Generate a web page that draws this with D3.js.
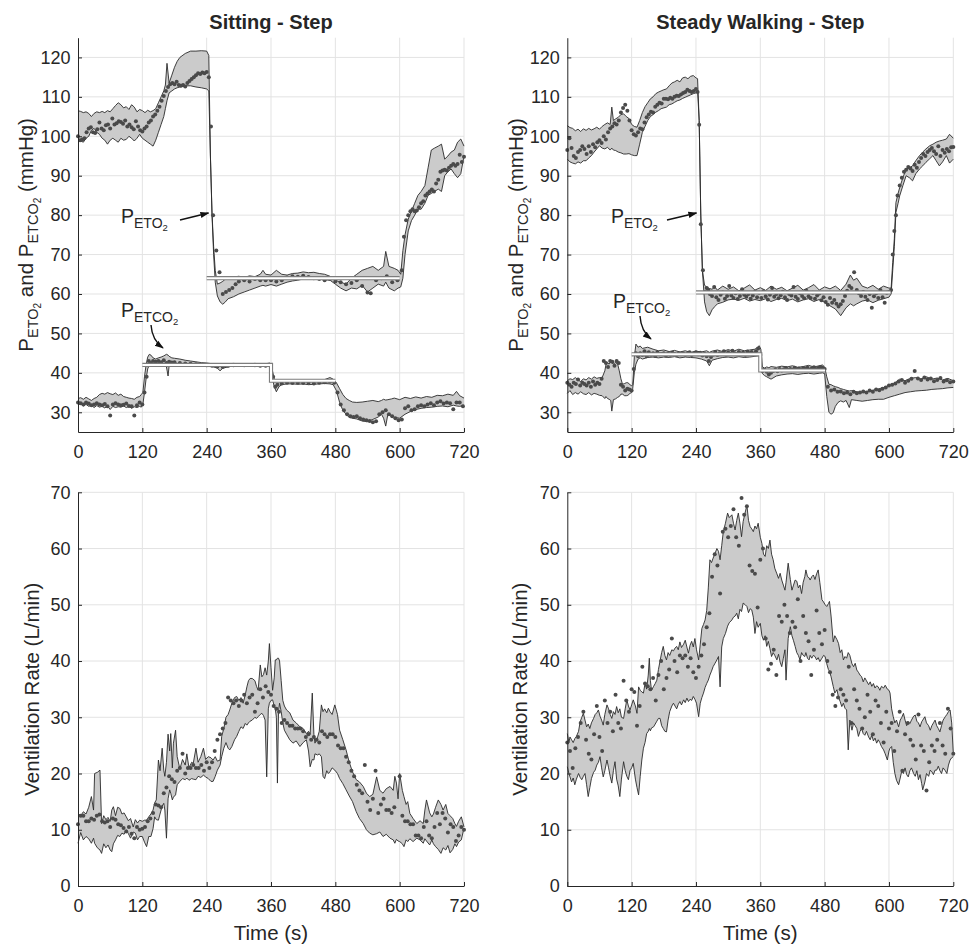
<!DOCTYPE html>
<html>
<head>
<meta charset="utf-8">
<script src="https://cdn.jsdelivr.net/npm/d3@7"></script>
<style>
  body { margin: 0; background: #fff; }
  text { font-family: "Liberation Sans", Arial, Helvetica, sans-serif; fill: #262626; }
</style>
</head>
<body>
<svg id="fig" width="970" height="946"></svg>
<script>
// ---- data: [time, upper, lower] for bands, [time, value] for breath dots ----
var timeTicks = [0, 120, 240, 360, 480, 600, 720];
var gasTicks = [30, 40, 50, 60, 70, 80, 90, 100, 110, 120];
var ventTicks = [0, 10, 20, 30, 40, 50, 60, 70];
var titles = ["Sitting - Step", "Steady Walking - Step"];

// sitting, end-tidal O2
var sitO2Band = [[0,106.5,98.5],[5,106.3,98.8],[10,106,98.5],[15,106.2,99.5],[20,105.8,100],[25,105,101.5],[30,105.8,102],[35,106.2,101],[40,106,100.5],[45,106.3,99.5],[50,106,99],[55,106.5,98],[60,106.2,99],[65,107,99.5],[70,107.8,99],[75,108.5,98.5],[80,108,99.5],[85,107.2,99],[90,107.5,99.2],[95,106.8,100],[100,108,99.5],[105,107.4,98.8],[110,106.2,99.5],[115,106.8,100.5],[120,106.5,99.5],[125,106,99],[130,106.6,98.5],[135,106.2,98],[140,106.5,97.5],[145,107,99],[150,108.5,101],[155,110,103],[160,111.5,105],[163,113,107],[166,118.5,109],[170,113.5,111],[175,115.5,111.5],[180,117.5,112],[185,119,112.3],[190,120,112.5],[200,121,112.8],[210,121.6,112.8],[220,121.6,112.5],[230,121.7,112.3],[240,121.6,112],[244,120.5,111.5],[247,95,95],[250,80.5,80],[253,72,70],[256,66,63],[260,62.5,59.5],[265,62.8,58],[270,63.2,57.4],[275,63.8,58],[280,64,58.8],[290,64.3,59.3],[300,64.5,60],[310,64.2,60.5],[320,64.6,61],[330,64.4,61.5],[340,65,62],[345,66,62.2],[350,65,62],[360,64.8,62.4],[370,66,62],[380,65,62.5],[390,64.8,63],[400,65.2,63.3],[410,65.3,63.5],[420,65.6,63.8],[430,65.4,64],[440,65.5,64],[450,65.2,63.8],[460,65,63.6],[470,64.5,63.5],[480,63.5,62.5],[490,63,61.5],[500,62.5,60.8],[510,64,61.5],[520,65,61.3],[530,66,62.2],[540,66.5,60.5],[550,67,61.5],[560,66,62.5],[570,67,62],[574,70.8,63],[580,67,61.5],[590,66.5,60.8],[597,66,61.5],[602,65,61.8],[606,71,64],[610,75,70],[616,79,76],[622,81,78.6],[628,83,80],[634,85,81.5],[640,86,81.5],[647,87.5,83],[653,92,85],[659,96.5,85.5],[665,97,86],[672,97.5,86.6],[678,98,86],[684,94.2,90],[690,95,91],[696,96,91.7],[702,96.5,90.5],[708,98.5,89.5],[714,99.3,90.5],[720,97.5,95]];
var sitO2Dots = [[0,100],[4,99],[8,99.2],[12,99.5],[16,101],[20,102],[24,102.3],[28,101],[32,100.8],[36,101.8],[40,103.5],[44,102],[48,101.5],[52,102.8],[56,103],[60,102],[64,104.5],[68,103],[72,103.3],[76,103.8],[80,103.6],[84,103.2],[88,104],[92,102.5],[96,103],[100,102.3],[104,101.8],[108,103.8],[112,102.5],[116,101.5],[120,101.2],[124,102],[128,102.5],[132,103.5],[136,104],[140,105],[144,105.5],[148,106.5],[152,107.5],[156,109],[160,110.2],[164,111.5],[168,112.5],[172,113.2],[176,113.5],[180,113.2],[184,113.8],[188,113],[192,112.8],[196,113],[200,112.6],[204,113.5],[208,114],[212,114.5],[216,115],[220,115.5],[224,116],[228,115.8],[232,116.2],[236,116],[240,116.3],[244,115],[248,102.5],[252,80],[258,71],[264,65.5],[270,60],[276,60.5],[282,61],[288,61.5],[294,62.5],[300,63.2],[310,63.5],[320,63.2],[330,63.8],[340,63.5],[350,63.5],[360,63.5],[370,63.2],[380,63.5],[390,64.2],[400,64.5],[410,64.4],[420,64.6],[430,64.3],[440,64],[450,63.8],[460,63.5],[470,63.8],[480,63.2],[490,63],[500,62.5],[510,62.8],[520,63.5],[530,62],[540,60.4],[546,60.2],[556,63.5],[566,64],[576,64.5],[586,63],[596,63.5],[604,66],[608,74.5],[612,78.7],[616,80],[620,81],[624,81.5],[628,81],[632,81.2],[636,82],[640,83],[644,83.5],[648,85],[652,85.5],[656,86],[660,86.5],[664,86],[668,88],[672,89],[676,91],[680,91.3],[684,91.5],[688,91.3],[692,92],[696,92.5],[700,93],[704,92.5],[708,93],[712,95.3],[716,93.5],[720,94.8]];
var sitO2Target = [[240,64],[600,64]];

// sitting, end-tidal CO2
var sitCo2Band = [[0,33.5,31.8],[5,33.7,32.2],[10,33.3,31.6],[15,33.8,32],[20,33.4,31.5],[25,33,31.8],[30,33.5,31.2],[35,33.8,31.7],[40,34.5,31.3],[45,34.8,31.5],[50,34.6,31.1],[55,35,31.6],[60,34.7,30.7],[65,34.5,31.5],[70,34.9,31.2],[75,34.3,31.4],[80,34.6,31.3],[85,34,31.6],[90,33.8,31.2],[95,33.6,31.5],[100,33.5,31],[105,33.3,31.4],[110,33.8,31.2],[115,34,31.5],[118,34.5,31.3],[121,35,32],[124,39,35],[127,42,38.5],[130,44,41],[133,44.7,42],[136,44.5,41.8],[140,43.8,42],[145,43.5,42.2],[150,43.8,42.5],[155,44,42.3],[160,44.3,42],[165,44.7,41.5],[168,44.5,39.2],[170,44.2,41.8],[175,43.8,42],[180,43.7,42.1],[190,43.5,42],[200,43.2,41.8],[210,43,42],[220,42.8,41.7],[230,42.6,41.8],[240,42.5,41.6],[250,42.3,41.6],[260,42.2,41.2],[265,42.2,40.5],[270,42.2,41.2],[280,42.3,41.5],[290,42.4,41.8],[300,42.3,41.7],[310,42.3,41.9],[320,42.3,41.8],[330,42.4,41.8],[340,42.3,41.9],[350,42.3,41.7],[358,42.5,41.8],[362,41,39],[366,38.5,36.5],[370,38,35.2],[375,38,36.5],[380,38,37],[390,38.2,37.2],[400,38.1,37.2],[410,38,37.1],[420,38.1,37.2],[430,38.2,37],[440,38,37.1],[450,38.1,37.2],[460,38.3,37.3],[470,38.8,37.2],[476,38.4,37],[482,37.5,35.5],[488,36,32.5],[494,34.5,30.5],[500,33.5,29.5],[506,33,28.7],[512,32.6,28.5],[520,32.5,28.3],[530,32.6,27.8],[540,32.8,27.6],[550,33,28.2],[560,32.7,28.8],[566,33,29.5],[570,33.3,28.5],[574,33.1,26.5],[578,33.2,29.5],[585,33.4,29.2],[590,33.6,28.7],[600,33.2,28.5],[610,33.8,29.5],[620,33.5,30.2],[630,33.9,30.7],[640,33.6,31],[650,34,31.2],[660,33.8,31.3],[670,34.3,31.5],[680,34.2,31.6],[690,34.6,31.4],[700,34.3,31.8],[706,35.3,31.6],[712,34.2,31.5],[720,33.6,31.8]];
var sitCo2Dots = [[0,32.5],[5,32.3],[10,32],[15,32.5],[20,32.2],[25,31.8],[30,32],[35,32.3],[40,32],[45,31.8],[50,32.1],[55,31.5],[60,29.2],[65,32],[70,32.3],[75,32],[80,31.8],[85,31.9],[90,32.2],[95,31.6],[100,31.5],[105,29.2],[110,31.8],[115,32.5],[120,32],[124,35],[128,39],[132,43],[136,42.5],[140,43],[145,42.8],[150,43],[155,42.7],[160,43.2],[165,42.5],[170,42.8],[175,42.6],[180,42.7],[190,42.5],[200,42.4],[210,42.3],[220,42.2],[230,42],[240,41.9],[250,41.8],[260,41.6],[270,41.5],[280,41.8],[290,41.9],[300,42],[310,41.9],[320,42],[330,41.9],[340,41.8],[350,41.8],[358,42],[364,39],[368,36.5],[372,37],[380,37.3],[390,37.5],[400,37.4],[410,37.5],[420,37.4],[430,37.5],[440,37.3],[450,37.5],[460,37.6],[470,37.8],[478,37.5],[484,35],[490,32],[496,30.5],[502,29.5],[508,29],[514,28.8],[520,29],[526,28.5],[532,28.2],[538,28],[544,27.8],[550,27.5],[556,27.7],[562,29.5],[568,30],[574,30.5],[580,29.5],[586,29],[592,28.5],[598,28],[604,28.2],[610,31],[616,31.5],[622,30.5],[628,30.8],[634,31.5],[640,31.8],[646,31.5],[652,32],[658,32.3],[664,31.8],[670,32.5],[676,32.8],[682,32.2],[688,32.5],[694,32.3],[700,30.8],[706,32.5],[712,32.5],[718,31.5]];
var sitCo2Target = [[120,42],[360,42],[360,38],[480,38]];

// walking, end-tidal O2
var wlkO2Band = [[0,102.7,94.2],[5,102.2,93.5],[10,102,93.2],[15,101.4,93],[20,101.8,93.5],[25,101.2,93.2],[30,101.9,93.8],[35,101.5,93.8],[40,102,94.5],[45,101.6,95.1],[50,101.9,96],[55,102.3,96.8],[60,101.8,97.6],[65,102.5,97],[70,103,96.8],[75,103.4,97.2],[80,103,96.5],[83,107.4,97],[86,104,96.5],[90,104.4,96.4],[95,104.8,96],[100,105.5,95.8],[105,105.7,95.5],[110,105,95.5],[115,104.5,95.6],[120,103,95.3],[125,102.5,95.1],[130,102.3,95.1],[135,104,98],[140,106,101],[145,107.5,102.5],[150,108.5,104],[155,109.5,105],[160,110,105.5],[165,110.8,106.1],[170,111.2,106.5],[175,111.5,107],[180,111.8,107.2],[185,112,107.4],[190,112.8,108],[195,113.5,108.2],[200,113.8,108.6],[205,114.2,109],[210,113.8,109.2],[215,114.8,109.6],[220,115,109.9],[225,114.6,110.2],[230,115.2,110.5],[235,115.4,110.8],[240,114.8,111],[243,114.6,111.6],[246,104,104],[249,80,80],[252,66,66],[256,62.2,58],[260,61.8,55.5],[265,61.4,54.5],[270,61.2,56],[275,61.8,56.8],[280,61,57.5],[290,62,57.9],[300,61.2,58.5],[310,61.8,58.7],[320,60.8,58.4],[330,61.5,58.9],[340,62.3,58.2],[350,61,58.6],[360,61.6,58.3],[370,60.9,58.8],[380,62,58.1],[390,61.2,58.6],[400,61.7,58.9],[410,60.8,58.3],[420,61.5,58.7],[430,62.2,58],[440,61,58.5],[450,61.6,58.8],[460,62.4,58.1],[470,61,58.6],[480,61.8,57.9],[490,61.3,57],[500,62,56.2],[510,60.9,54.5],[520,62.5,56.5],[528,64.8,57.5],[534,63.5,57],[540,64,57.5],[550,62,58.2],[560,61.5,58.5],[570,62.2,57.8],[580,61.2,58.4],[590,62,58.8],[600,61.5,59.2],[604,61.5,60],[607,68,66],[610,74,72],[613,83.2,80.7],[617,85.5,83],[620,87,84.9],[626,89.5,87.5],[632,91.7,90],[638,92,89.5],[644,92.5,88.7],[650,93.8,90.5],[657,95.1,91.7],[663,96,92.5],[669,96.8,93.4],[676,97.6,94.3],[682,98,95.1],[688,98.5,93.8],[694,98.8,92.5],[700,99,93.5],[707,99.3,95.1],[713,100.5,93.2],[720,99.5,94.2]];
var wlkO2Dots = [[0,96.5],[4,99.5],[8,97],[12,95],[16,94.5],[20,96],[24,96.5],[28,97.5],[32,96.8],[36,95.5],[40,97.5],[44,96],[48,98],[52,97.2],[56,98.5],[60,99],[64,98.3],[68,100],[72,99.2],[76,101],[80,102],[84,102.5],[88,103.3],[92,103],[96,104],[100,106],[104,107.2],[108,108],[112,106.5],[116,104],[120,101.5],[124,100.5],[128,100.2],[132,101],[136,102],[140,101.8],[144,103.5],[148,104.8],[152,105.5],[156,106.2],[160,106],[164,107.5],[168,108],[172,108.5],[176,108.3],[180,109.5],[184,109.5],[188,109.4],[192,109.8],[196,109.5],[200,110],[204,110.3],[208,110.2],[212,110.6],[216,111],[220,111.2],[224,111.8],[228,111.5],[232,111.2],[236,111.5],[240,112],[243,111.2],[246,102.9],[249,77.7],[253,66],[257,60.5],[260,61.5],[263,61],[266,60],[270,59.5],[274,61.8],[278,59.2],[282,58.5],[286,59.8],[290,60.4],[294,58.8],[298,59.5],[302,62],[306,59.6],[310,59],[314,60.2],[318,58.7],[322,59.5],[326,61.2],[330,59.8],[334,59.3],[338,60],[342,58.8],[346,59.6],[350,60.5],[354,59.2],[358,60.3],[362,59],[366,60.7],[370,59.4],[374,58.6],[378,59.8],[382,61.5],[386,59.3],[390,60],[394,58.9],[398,59.7],[402,60.6],[406,59.2],[410,58.5],[414,60],[418,59.6],[422,61.8],[426,59.3],[430,58.7],[434,60.2],[438,59.5],[442,58.9],[446,60.8],[450,59.4],[454,59],[458,60.3],[462,58.8],[466,59.6],[470,60.1],[474,58.4],[478,59.2],[482,58],[486,57.3],[490,59],[494,57.8],[498,58.5],[502,57.5],[506,56.8],[510,57.4],[514,58.2],[518,59.5],[522,60.8],[526,62],[530,61.5],[535,65.5],[540,61],[544,60.2],[548,59.5],[552,60.5],[556,59.3],[560,58.5],[564,60],[568,56.5],[572,59.4],[576,60.2],[580,59],[584,61],[588,59.2],[592,57.8],[596,60.3],[600,60.5],[604,61],[607,70],[610,76],[613,80],[616,85],[620,87.5],[624,89.5],[628,91],[632,91.5],[636,92.2],[640,91.8],[644,91.2],[648,92.8],[652,92],[656,93.5],[660,94.5],[664,95.5],[668,95],[672,96],[676,96.5],[680,97],[684,96.2],[688,95.5],[692,97.5],[696,95],[700,96.5],[704,95.8],[708,96.8],[712,96.2],[716,97.2],[720,97.3]];
var wlkO2Target = [[240,60.4],[603,60.4]];

// walking, end-tidal CO2
var wlkCo2Band = [[0,38,34.8],[5,38.5,35.5],[10,38.3,34.5],[15,38.8,35],[20,38.2,34.6],[25,37.8,35.2],[30,38.5,34.7],[35,38.2,34.5],[40,38.8,35],[45,38.4,34.4],[50,39,34.8],[55,38.6,34.6],[60,38.8,34.3],[65,38.8,34.2],[70,40.5,33.5],[72,42,34],[75,42.6,33.5],[78,42.2,33.3],[81,42.8,33],[83,42.5,30.3],[86,42.3,33.2],[90,42.6,33.4],[94,42.2,33.8],[97,40.5,34],[100,38.5,34.6],[103,37.1,34.6],[107,37.3,34.2],[110,37.5,34.2],[113,37.5,34.3],[117,37,34.8],[120,36.7,35],[122,37,36],[125,44,40],[128,47.3,42.2],[132,46.5,43.5],[136,46.8,43.8],[140,46.2,43.5],[150,46.5,43.9],[160,46,44],[170,45.6,43.8],[180,45.8,44],[190,45.4,43.9],[200,45.7,44.1],[210,45.3,43.8],[220,45.6,44],[230,45.2,43.9],[240,45.5,43.8],[250,45.3,43.5],[260,45.6,43],[265,45.2,41.8],[270,45.5,43.2],[280,45.8,43.6],[290,45.4,43.9],[300,45.9,44],[310,45.5,43.8],[320,46,44.1],[330,45.6,43.9],[340,45.8,44],[350,46,44.2],[355,46.5,44.3],[358,46.9,44.5],[361,46,43.5],[364,41.5,39.8],[368,41.2,39.3],[372,41.5,39],[376,41.3,38.7],[380,41.6,38.4],[390,41.4,39.2],[400,41.7,39.5],[410,41.5,39.7],[420,41.8,39.8],[430,41.4,39.6],[440,41.6,39.8],[450,41.9,39.9],[460,41.5,39.7],[470,41.8,39.9],[476,42,40],[480,41.5,39.8],[484,39,34],[488,37.1,30],[492,37,29.5],[496,36.7,29.9],[500,36.5,31.5],[505,36.3,32.5],[510,36,32.9],[515,35.8,32.6],[520,35.6,33],[526,35.4,31.2],[530,35.5,33.2],[540,35.2,33],[550,35,32.8],[560,35.3,33],[570,35.6,33.2],[580,35.9,33.3],[590,36.3,33.3],[600,36.8,33.8],[610,37.3,34.2],[620,38.4,34.6],[630,38,35],[640,38.6,35.2],[650,38.8,35.4],[660,38.4,35.5],[670,39,35.6],[680,38.4,35.8],[690,38.7,35.9],[700,38.2,36],[710,38.6,36.2],[720,38,36.3]];
var wlkCo2Dots = [[0,37.5],[4,37],[8,36.5],[12,37.5],[16,37.2],[20,38.3],[24,36.8],[28,37.5],[32,37.2],[36,36.8],[40,37.5],[44,36.5],[48,37.8],[52,37],[56,37.5],[60,37.2],[64,38.5],[68,43],[72,42.5],[76,41.5],[80,43],[84,42.8],[88,41.8],[92,43],[96,42.5],[100,37],[104,36.5],[108,35.5],[112,36],[116,35.8],[120,35.5],[124,41],[128,45],[132,44.2],[136,45],[140,44.5],[144,45.5],[148,44.2],[152,45.2],[156,44.6],[160,45],[164,44.3],[168,45.2],[172,44.7],[176,44.8],[180,45],[184,44.4],[188,44.9],[192,44.6],[196,45.1],[200,44.8],[204,44.5],[208,45],[212,44.7],[216,44.9],[220,44.6],[224,44.8],[228,45.2],[232,44.5],[236,44.9],[240,45.2],[244,44.7],[248,45.1],[252,44.4],[256,44.8],[260,44.2],[264,43],[268,44],[272,44.6],[276,45.3],[280,44.5],[284,45],[288,44.8],[292,45.5],[296,44.6],[300,45.2],[304,44.8],[308,45.6],[312,45],[316,44.7],[320,45.3],[324,44.9],[328,45.1],[332,44.6],[336,45.4],[340,45],[344,45.3],[348,44.8],[352,45.5],[356,46.2],[360,44.5],[364,40.5],[368,40.8],[372,40.3],[376,39.6],[380,40],[384,40.5],[388,40.8],[392,40.4],[396,41],[400,40.6],[404,40.9],[408,41.2],[412,40.7],[416,41],[420,40.8],[424,41.3],[428,40.9],[432,41.1],[436,40.7],[440,41.2],[444,41],[448,41.3],[452,40.8],[456,41.1],[460,41.4],[464,40.9],[468,41.2],[472,41.5],[476,41.3],[480,41],[486,36.5],[492,35.5],[498,35.8],[504,35.2],[510,35.3],[516,34.8],[522,35],[528,34.6],[534,35.2],[540,34.8],[546,35],[552,35.3],[558,35],[564,35.5],[570,35.2],[576,35.8],[582,35.6],[588,36],[594,36.3],[600,36.8],[606,37],[612,37.3],[618,37.8],[624,38.2],[630,37.5],[636,38],[642,38.5],[648,40.5],[654,38.6],[660,38.2],[666,38.8],[672,38.3],[678,38.6],[684,37.9],[690,38.2],[696,38.7],[702,37.8],[708,38.1],[714,37.6],[720,37.8]];
var wlkCo2Target = [[120,44.7],[360,44.7],[360,40.6],[481,40.6]];

// sitting, ventilation
var sitVentBand = [[0,12.9,7.6],[5,12.5,9.5],[10,13.2,8.2],[15,12.8,8.8],[20,14,8.4],[25,15.9,7.6],[29,13.5,8.5],[31,20,7.6],[36,20.2,6.8],[41,20.6,6.4],[44,11.1,5.8],[48,12.5,7.5],[52,11.8,6.8],[56,12.2,7.3],[60,11.5,6.4],[63,13.5,6.1],[66,14.1,7.5],[70,12.5,8.2],[74,14,9],[78,13.8,8.8],[82,12.8,9.4],[86,13,9.2],[90,12.3,10],[94,11.6,9.3],[98,12,8.5],[103,10.5,9.6],[107,11.8,9.4],[111,11.2,8.2],[115,11.7,8.8],[120,11.5,8.8],[124,11.7,7.8],[128,11.7,7],[132,12.3,8.8],[136,12.8,8.8],[140,13.5,10.2],[143,14.8,12.3],[146,15.3,11.8],[150,22.4,11.7],[153,20.5,12.8],[157,24.5,14.2],[160,20.6,14.7],[162,19.5,13.5],[165,22,8.5],[168,27,15.5],[171,24,17.1],[173,27.1,16.5],[176,21,15.3],[178,25.4,15.8],[182,27.7,16.2],[185,23,18],[190,20.8,18.6],[195,22.5,19.1],[200,21.5,18.9],[203,23.5,19.2],[207,21,18.8],[212,22,19.1],[215,21.8,19],[220,24.5,18.9],[224,22,19.5],[229,23,19.3],[234,24.5,19.7],[238,22.5,19.4],[243,23,19.1],[248,22.8,18.6],[252,22.4,18.6],[256,23,19.5],[260,22.2,20.6],[265,22.4,21.5],[268,26.6,23],[272,28,24.5],[276,30,25.5],[280,30.5,24.5],[283,31.3,24.2],[287,32.5,24.8],[292,33.5,26],[296,33.7,26.6],[300,33,27.5],[304,33.5,28.3],[308,32.5,28],[312,34,28.9],[315,35.4,28.6],[318,36.5,29],[321,36.9,29.3],[325,36.9,29.5],[330,36.5,30],[333,35.5,29.8],[336,34.8,30.1],[340,39.3,30.5],[343,37.2,30.7],[346,37.6,30.3],[349,38.8,29.5],[352,37.5,19.4],[355,40,31.5],[357,43.1,32.5],[360,38.8,33],[363,34.8,33.1],[366,37,32],[368,40.2,31.5],[370,40.2,30],[372,40.5,18.3],[374,40.5,31],[376,40,32.5],[379,36.5,31],[382,33,29],[385,32,27.7],[389,31.3,27],[395,30.8,26],[401,29.5,25.4],[407,29,25.8],[414,28.3,24.8],[420,28,25.5],[426,27.1,26],[430,27.5,24],[433,27,21.2],[437,34.3,22.5],[440,27,22.4],[442,25.4,23.5],[447,26.5,23.3],[450,27.5,23.5],[454,32.2,23],[457,31,19.5],[460,31.5,19.1],[464,30.8,20.5],[467,31.6,20],[470,31,20.3],[474,30.5,21],[479,32.2,20.6],[484,30.5,20],[488,27.7,19.1],[494,26,18.2],[500,24.2,17.1],[506,22,16],[512,20.3,15],[519,18.9,13.2],[525,18.5,12],[532,17.7,11.1],[538,16.5,10],[544,15.9,9.4],[550,16.3,9.1],[557,19.4,9.3],[563,17,9.6],[569,16.5,8.8],[575,17.3,9.2],[582,17.7,8.5],[588,17,8.2],[591,19.5,7.6],[594,18.3,8.3],[597,15.5,8],[600,20,7.9],[605,17,7.5],[608,15.9,7],[612,14.5,8.2],[615,15,7.9],[619,12.9,8.4],[625,12,7.9],[632,11.1,8.5],[638,11.6,8.2],[644,11.1,7.6],[647,13.5,8.4],[650,15.3,8],[656,13,7.3],[660,12.3,8.2],[663,12.8,7.5],[667,14,7],[672,15.3,6.5],[677,14.5,5.8],[681,13.5,6.8],[686,14.5,6.4],[690,12.9,7.2],[694,12.5,5.9],[699,12,6.5],[703,11.1,7.5],[706,10.6,7],[710,11.5,7.8],[715,12.3,8.2],[720,10.5,10.3]];
var sitVentDots = [[0,11],[5,12.5],[10,12.5],[15,11.5],[20,11.5],[25,12],[30,11.8],[35,12.5],[40,12.7],[45,11.5],[50,11.3],[55,11.5],[60,10.5],[65,12],[70,11.8],[75,11],[80,10.8],[85,10.3],[90,9.7],[95,10.5],[100,9.3],[105,8.5],[110,10.5],[115,10],[120,10.2],[125,10.5],[130,11.5],[135,12],[140,13],[145,14.5],[150,14.3],[155,14],[160,16.5],[165,17.5],[170,19.5],[175,19],[180,18.5],[185,20.5],[190,21],[195,23.5],[200,20],[205,21],[210,21],[215,21.5],[220,21],[225,21],[230,21.5],[235,20.5],[240,22],[245,21],[250,22],[255,24],[260,26],[265,27],[270,28],[275,29],[280,33.5],[285,33],[290,32.5],[295,33],[300,32],[305,33],[310,34],[315,32.5],[320,33.5],[325,34],[330,31],[335,32.5],[340,35],[345,33.5],[350,35.5],[355,34.5],[360,34],[365,32],[370,31.5],[375,31],[380,29],[385,29.5],[390,29],[395,28.5],[400,28.5],[405,28],[410,28],[415,28],[420,27.5],[425,26.5],[430,27],[435,26],[440,26.5],[445,26],[450,25.5],[455,27.5],[460,27],[465,26.5],[470,27],[475,27],[480,26.5],[485,25],[490,24.5],[495,24.5],[500,23],[505,22],[510,20.5],[515,19.5],[520,18],[525,17],[530,16.5],[535,21.5],[540,15],[545,13.5],[550,15.5],[555,20.5],[560,13],[565,14.5],[570,15.5],[575,13.5],[580,13.5],[585,13],[590,14],[600,19.5],[605,12.5],[610,11.5],[615,11.5],[620,11],[625,11],[630,9],[635,9],[640,8.5],[645,10.5],[650,11.5],[655,9],[660,8.5],[665,10.5],[670,13],[675,11],[680,13],[685,12],[690,9.5],[695,11],[700,10.5],[705,8],[710,9],[715,10.5],[720,10]];

// walking, ventilation
var wlkVentBand = [[0,27.1,21.2],[3,25.5,20],[5,26.5,19.4],[8,26,18.5],[11,25.5,19.2],[14,26.2,18],[17,26.6,19],[21,27.5,20],[24,29.2,19.3],[27,30,18.9],[30,30.7,19.5],[33,29.5,20],[36,28.3,18],[39,28.8,15.9],[42,28,17.5],[45,29,19.1],[49,29.8,20.2],[52,30.5,20.6],[55,30.8,21.5],[58,31.3,22],[61,30.2,23],[64,29.5,21],[67,28.6,19.4],[70,30.5,20.5],[74,32.2,22.4],[77,31.5,21],[80,30.5,19.5],[83,29.8,18.3],[86,31,20.5],[89,30.5,22.1],[92,31.9,19],[95,30.8,17.8],[98,31.5,15.9],[101,30,19],[105,29.8,22.1],[108,31.5,20.5],[111,33.1,19.5],[114,32,18.9],[117,31.3,20.5],[120,32.2,21],[123,33.1,21.8],[127,32,19],[130,30.7,17.5],[133,35.4,16.2],[136,34.8,19.5],[139,34.5,22.4],[142,34.3,24.5],[145,36,25.5],[148,35,27.1],[151,37.5,27.5],[153,40.5,28],[155,36.5,27.6],[157,34.8,28.1],[161,35.5,28.3],[164,36,28.8],[167,36.6,29.3],[170,38.5,29.8],[173,40,29.8],[176,41.5,28.5],[179,42.6,28],[182,41,27.5],[185,40.2,27.4],[188,41.5,29.5],[191,41,31],[195,42,32],[198,41.8,32.5],[201,42.3,32],[204,42.6,31.5],[207,42,32.3],[210,43.4,32.8],[213,42.4,32.2],[217,43,33.1],[220,43.7,32.6],[223,42.5,33.4],[226,41.4,32.8],[229,42.8,33.2],[232,43.5,33],[235,42.5,33.7],[238,44,33.2],[241,42,32.5],[245,40.2,30.1],[248,43,32.5],[251,45.8,33.5],[254,46.5,34.3],[257,47.3,35.3],[260,49,36],[263,53,36.6],[266,58,37.5],[269,57.5,38.2],[272,58.3,39],[275,59,39.5],[279,60,40.2],[282,59.5,40.8],[285,58,35.4],[288,60.5,42.5],[291,63,44],[295,64.5,44.9],[299,66.3,46.2],[302,65.5,46.8],[307,66,47.3],[310,64.5,47.8],[313,63.3,48],[316,65,48.5],[319,66.3,47.5],[322,64.5,49.2],[325,62.1,48.8],[328,64.8,50.3],[332,66.5,50],[335,67.7,49.7],[338,65,48.6],[341,63.9,49.3],[344,63.5,49.1],[347,63,47.8],[350,64,44.9],[353,63.5,47],[356,64.5,46],[360,62,46.7],[363,60.9,44.5],[366,59,43.7],[369,58.6,44.5],[372,60.5,42.6],[375,60,43.5],[378,61.5,42.2],[381,59,40.8],[384,58,41.5],[387,56.5,41],[391,55.5,40.2],[394,54.7,41.2],[397,55.6,39.8],[400,54.4,39],[403,53.5,40.5],[406,52.6,42],[408,54,36.6],[412,57.4,44],[416,54.5,46.1],[419,52.6,44.5],[422,53.5,43.6],[425,54.4,42.6],[428,54.2,41.5],[431,53,41],[434,53.5,40.2],[437,52,41.5],[440,54,41],[443,55,40.8],[445,56.2,41.5],[448,55,40.5],[451,54.8,40.2],[453,54.4,41],[456,55,40.5],[459,55.3,41],[462,54.5,40.8],[465,55.5,40.2],[468,56.2,40.6],[471,54,39.9],[475,50.9,40.5],[478,50.5,41],[481,50,40.8],[484,49.7,39.5],[487,50.2,38.5],[489,50.6,38.2],[492,48,37.2],[496,43.4,35.5],[499,44.5,34.3],[503,43.8,34.9],[506,43.1,33.5],[509,41.5,32.8],[512,42,31.9],[515,40.2,32.5],[518,40.8,31.6],[521,40.5,31.3],[524,41.5,24.2],[527,41,29.5],[531,39.5,27.7],[534,39,29],[537,39.6,28.5],[540,38.4,28],[543,38,26.6],[546,37.5,27.5],[549,37.2,28],[552,36.3,27.1],[555,37,26.8],[558,36.5,27.5],[562,35.8,26.5],[565,36.3,26],[568,35.5,26.8],[571,36,25.8],[574,35.2,26.3],[577,35.6,25.4],[580,35.4,26],[583,34.8,25.5],[586,35.5,24.8],[590,35.2,24.2],[593,35.7,23.5],[597,35,22.4],[600,34.8,24],[602,34.3,24.5],[605,31.5,24.8],[608,30.1,22],[611,29,20],[614,29.5,18.8],[618,28.3,18],[621,29.5,19.2],[624,30,20.5],[627,30.7,20],[630,29.5,21],[633,28.5,19.8],[636,29.2,19.4],[639,28.9,20.5],[642,29.5,21],[646,30.2,20],[649,30.4,19.5],[652,29.3,20.5],[655,29,18.9],[658,28.3,19.8],[661,29.2,18.2],[663,29.5,17.1],[667,30.1,18.5],[670,29,20],[674,28.5,19.5],[677,27.7,20.6],[680,28.5,20.3],[683,29,19.8],[686,29.5,20.6],[689,28.5,20.6],[692,28,21.3],[695,27.4,20.5],[698,28.5,20],[701,29.5,21],[705,30.1,20.5],[708,30.5,20],[711,31,21.5],[714,31.3,22.4],[717,29,22.8],[720,23.6,23]];
var wlkVentDots = [[0,25.5],[5,24],[10,21],[15,24.5],[20,26.5],[25,29],[30,31],[35,26],[40,23.5],[45,22.5],[50,27],[55,32],[60,26.5],[65,24],[70,33],[75,29],[80,31],[85,27.5],[90,34],[95,29],[100,28],[105,36.5],[110,33],[115,31],[120,35],[125,34.5],[130,28.5],[135,32],[140,39],[145,36],[150,35.5],[155,35],[160,37],[165,33],[170,37.5],[175,40],[180,35],[185,37],[190,38.5],[195,44],[200,40],[205,38],[210,41],[215,40.5],[220,41],[225,39],[230,40.5],[235,38],[240,37],[245,39],[250,41],[255,43],[260,46],[265,48.5],[270,55],[275,59],[280,57],[285,52],[290,63],[295,63.5],[300,62],[305,64],[310,67],[315,62],[320,60.5],[325,69],[330,66],[335,67.5],[340,57],[345,56],[350,55.5],[355,49.5],[360,58],[365,60],[370,44],[375,38.5],[380,39.5],[385,42],[390,37.5],[395,48],[400,47],[405,50],[410,48],[415,45],[420,47],[425,46],[430,51],[435,40],[440,48],[445,45],[450,43.5],[455,37.5],[460,42],[465,49],[470,45],[475,43],[480,45.5],[485,40],[490,38],[495,34],[500,32],[505,33.5],[510,35],[515,34],[520,33],[525,39],[530,29],[535,35],[540,33],[545,31.5],[550,28],[555,30],[560,34],[565,31],[570,27],[575,33],[580,32],[585,29],[590,25.5],[595,31],[600,28],[605,29],[610,24],[615,27.5],[620,31],[625,20.5],[630,27],[635,29],[640,26],[645,25],[650,22.5],[655,30.5],[660,25],[665,24],[670,17],[675,22],[680,25],[685,24],[690,26],[695,29],[700,25],[705,23.5],[710,31.5],[715,28],[720,23.5]];

// ---- layout ----
var svg = d3.select("#fig");
var cols = [{x0: 78, x1: 464}, {x0: 567.3, x1: 953.3}];
var rows = [{y0: 432, y1: 37.7, dom: [25, 125], ticks: gasTicks},
            {y0: 886, y1: 492.3, dom: [0, 70], ticks: ventTicks}];
var ink = "#262626";

svg.append("defs").append("marker")
    .attr("id", "head")
    .attr("viewBox", "0 0 10 10")
    .attr("refX", 9).attr("refY", 5)
    .attr("markerWidth", 9).attr("markerHeight", 9)
    .attr("markerUnits", "userSpaceOnUse")
    .attr("orient", "auto")
  .append("path")
    .attr("d", "M0,1.5 L10,5 L0,8.5 Z")
    .attr("fill", "#111");

function makePanel(c, r) {
  var x = d3.scaleLinear().domain([0, 720]).range([cols[c].x0, cols[c].x1]);
  var y = d3.scaleLinear().domain(rows[r].dom).range([rows[r].y0, rows[r].y1]);
  var g = svg.append("g");

  // grid
  g.selectAll(".gx").data(timeTicks.slice(1)).enter().append("line")
    .attr("x1", d => x(d)).attr("x2", d => x(d))
    .attr("y1", y.range()[0]).attr("y2", y.range()[1])
    .attr("stroke", "#e3e3e3").attr("stroke-width", 1);
  g.selectAll(".gy").data(rows[r].ticks.filter(d => d > rows[r].dom[0])).enter().append("line")
    .attr("x1", x(0)).attr("x2", x(720))
    .attr("y1", d => y(d)).attr("y2", d => y(d))
    .attr("stroke", "#e3e3e3").attr("stroke-width", 1);

  return {g: g, x: x, y: y, c: c, r: r};
}

function drawAxes(p) {
  var ax = p.g.append("g")
    .attr("transform", "translate(0," + p.y.range()[0] + ")")
    .call(d3.axisBottom(p.x).tickValues(timeTicks).tickSizeInner(-4).tickSizeOuter(0).tickPadding(13.5));
  var ay = p.g.append("g")
    .attr("transform", "translate(" + p.x(0) + ",0)")
    .call(d3.axisLeft(p.y).tickValues(rows[p.r].ticks).tickSizeInner(-4).tickSizeOuter(0).tickPadding(7.5));
  [ax, ay].forEach(function(a) {
    a.select(".domain").attr("stroke", ink).attr("stroke-width", 1);
    a.selectAll(".tick line").attr("stroke", ink);
    a.selectAll(".tick text").attr("fill", ink)
      .style("font-family", '"Liberation Sans", Arial, sans-serif').style("font-size", "18px");
  });
}

function drawBand(p, band, dots) {
  var area = d3.area().x(d => p.x(d[0])).y0(d => p.y(d[2])).y1(d => p.y(d[1]));
  p.g.append("path").datum(band).attr("d", area).attr("fill", "#cbcbcb");
  [1, 2].forEach(function(k) {
    p.g.append("path").datum(band)
      .attr("d", d3.line().x(d => p.x(d[0])).y(d => p.y(d[k])))
      .attr("fill", "none").attr("stroke", "#2a2a2a").attr("stroke-width", 0.9)
      .attr("stroke-linejoin", "round");
  });
  p.g.selectAll(null).data(dots).enter().append("circle")
    .attr("cx", d => p.x(d[0])).attr("cy", d => p.y(d[1]))
    .attr("r", 2).attr("fill", "#4a4a4a");
}

function drawTarget(p, pts) {
  var line = d3.line().x(d => p.x(d[0])).y(d => p.y(d[1]));
  p.g.append("path").datum(pts).attr("d", line)
    .attr("fill", "none").attr("stroke", "#7d7d7d").attr("stroke-width", 4.2);
  p.g.append("path").datum(pts).attr("d", line)
    .attr("fill", "none").attr("stroke", "#fff").attr("stroke-width", 2);
}

// subscripted label: parts [text, size, dy]
function richText(sel, parts) {
  parts.forEach(function(pt) {
    sel.append("tspan").text(pt[0]).style("font-size", pt[1] + "px").attr("dy", pt[2]);
  });
  return sel;
}

function annotate(x0, yb, gas) {
  var t = svg.append("text").attr("x", x0).attr("y", yb);
  richText(t, [["P", 19.5, 0], ["ET" + gas, 14, 5], ["2", 9.5, 3]]);
}

var panels = [];
for (var r = 0; r < 2; r++) for (var c = 0; c < 2; c++) panels.push(makePanel(c, r));

// top: end-tidal gases
drawBand(panels[0], sitO2Band, sitO2Dots);
drawBand(panels[0], sitCo2Band, sitCo2Dots);
drawTarget(panels[0], sitO2Target);
drawTarget(panels[0], sitCo2Target);
drawBand(panels[1], wlkO2Band, wlkO2Dots);
drawBand(panels[1], wlkCo2Band, wlkCo2Dots);
drawTarget(panels[1], wlkO2Target);
drawTarget(panels[1], wlkCo2Target);
// bottom: ventilation
drawBand(panels[2], sitVentBand, sitVentDots);
drawBand(panels[3], wlkVentBand, wlkVentDots);

panels.forEach(drawAxes);

// titles
titles.forEach(function(t, i) {
  svg.append("text").text(t)
    .attr("x", (cols[i].x0 + cols[i].x1) / 2).attr("y", 28.5)
    .attr("text-anchor", "middle")
    .style("font-size", "20px").style("font-weight", "bold");
});

// y labels
[[45, 44], [39, 40]].forEach(function(off, r) {
  cols.forEach(function(col, c) {
    var cy = (rows[r].y0 + rows[r].y1) / 2;
    var t = svg.append("text")
      .attr("transform", "translate(" + (col.x0 - off[c]) + "," + cy + ") rotate(-90)")
      .attr("text-anchor", "middle");
    if (r === 0) {
      richText(t, [["P", 20.5, 0], ["ETO", 14.5, 5], ["2", 10, 3], [" and P", 20.5, -8],
                   ["ETCO", 14.5, 5], ["2", 10, 3], [" (mmHg)", 20.5, -8]]);
    } else {
      t.text("Ventilation Rate (L/min)").style("font-size", "20.5px");
    }
  });
});

// x labels
cols.forEach(function(col) {
  svg.append("text").text("Time (s)")
    .attr("x", (col.x0 + col.x1) / 2).attr("y", 940)
    .attr("text-anchor", "middle").style("font-size", "20.5px");
});

// annotations
annotate(121, 222.5, "O");
annotate(611, 222.5, "O");
annotate(121, 317, "CO");
annotate(613, 308, "CO");
svg.append("path").attr("d", "M180,220 L208.5,213")
  .attr("stroke", "#111").attr("stroke-width", 1.4).attr("fill", "none").attr("marker-end", "url(#head)");
svg.append("path").attr("d", "M667,220 L696.5,213")
  .attr("stroke", "#111").attr("stroke-width", 1.4).attr("fill", "none").attr("marker-end", "url(#head)");
svg.append("path").attr("d", "M151,325 Q152,340 163,348")
  .attr("stroke", "#111").attr("stroke-width", 1.4).attr("fill", "none").attr("marker-end", "url(#head)");
svg.append("path").attr("d", "M640,316 Q641,331 651,339")
  .attr("stroke", "#111").attr("stroke-width", 1.4).attr("fill", "none").attr("marker-end", "url(#head)");
</script>
</body>
</html>
